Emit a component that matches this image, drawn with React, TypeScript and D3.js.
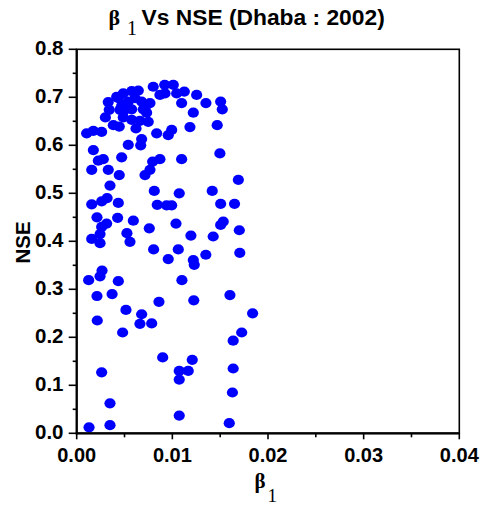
import React from 'react';
import * as d3 from 'd3';

const beta1 = [
  0.00104, 0.00174, 0.00261, 0.0033, 0.0034, 0.003, 0.00383, 0.00418, 0.00435, 0.00487,
  0.00575, 0.00644, 0.0061, 0.00679, 0.00539, 0.0047, 0.00452, 0.00522, 0.00487, 0.00575,
  0.00696, 0.00731, 0.00766, 0.00748, 0.00661, 0.00575, 0.00487, 0.00445, 0.0062, 0.00679,
  0.00669, 0.00539, 0.00836, 0.00957, 0.00993, 0.008, 0.0087, 0.0092, 0.0101, 0.01045,
  0.01125, 0.01097, 0.01254, 0.01219, 0.01351, 0.01505, 0.01522, 0.01184, 0.01469, 0.01497,
  0.01097, 0.0087, 0.00794, 0.00766, 0.00714, 0.0047, 0.00278, 0.00226, 0.00174, 0.00157,
  0.0033, 0.00445, 0.00348, 0.00811, 0.01072, 0.01417, 0.0169, 0.00157, 0.00261, 0.00318,
  0.00435, 0.00842, 0.0094, 0.00993, 0.01505, 0.0165, 0.00212, 0.00313, 0.00261, 0.00428,
  0.00592, 0.00759, 0.01038, 0.01532, 0.01505, 0.017, 0.00157, 0.00244, 0.00244, 0.00525,
  0.00557, 0.00804, 0.00957, 0.01062, 0.01194, 0.01219, 0.01229, 0.0135, 0.01427, 0.01705,
  0.00265, 0.00244, 0.00125, 0.00435, 0.011, 0.00212, 0.0037, 0.0086, 0.01224, 0.01602,
  0.00515, 0.00679, 0.00215, 0.00661, 0.00784, 0.0048, 0.00899, 0.00261, 0.01072, 0.01072,
  0.01166, 0.01208, 0.00348, 0.01072, 0.00129, 0.00348, 0.01636, 0.01636, 0.01628, 0.01595,
  0.01725, 0.01839, 0.00923, 0.00731,
];

const nse = [
  0.625, 0.63, 0.628, 0.69, 0.674, 0.658, 0.642, 0.701, 0.698, 0.708,
  0.713, 0.714, 0.698, 0.691, 0.691, 0.682, 0.674, 0.68, 0.67, 0.675,
  0.675, 0.668, 0.688, 0.649, 0.651, 0.653, 0.658, 0.639, 0.635, 0.613,
  0.6, 0.601, 0.625, 0.621, 0.632, 0.722, 0.705, 0.726, 0.726, 0.708,
  0.712, 0.688, 0.705, 0.668, 0.688, 0.691, 0.675, 0.638, 0.642, 0.583,
  0.571, 0.571, 0.566, 0.549, 0.538, 0.575, 0.571, 0.568, 0.59, 0.549,
  0.549, 0.538, 0.516, 0.505, 0.5, 0.505, 0.528, 0.477, 0.483, 0.49,
  0.48, 0.476, 0.475, 0.475, 0.478, 0.478, 0.45, 0.437, 0.43, 0.449,
  0.443, 0.427, 0.437, 0.441, 0.434, 0.423, 0.405, 0.415, 0.396, 0.417,
  0.399, 0.383, 0.363, 0.383, 0.412, 0.361, 0.351, 0.372, 0.41, 0.376,
  0.339, 0.327, 0.319, 0.317, 0.319, 0.286, 0.29, 0.274, 0.277, 0.288,
  0.257, 0.248, 0.235, 0.228, 0.229, 0.21, 0.158, 0.127, 0.13, 0.112,
  0.13, 0.153, 0.0625, 0.037, 0.0125, 0.017, 0.193, 0.135, 0.085, 0.021,
  0.21, 0.25, 0.708, 0.684,
];

const xTicks = [0, 0.01, 0.02, 0.03, 0.04];
const xTickLabels = ['0.00', '0.01', '0.02', '0.03', '0.04'];
const xMinorTicks = [0.005, 0.015, 0.025, 0.035];
const yTicks = [0, 0.1, 0.2, 0.3, 0.4, 0.5, 0.6, 0.7, 0.8];
const yTickLabels = ['0.0', '0.1', '0.2', '0.3', '0.4', '0.5', '0.6', '0.7', '0.8'];
const yMinorTicks = [0.05, 0.15, 0.25, 0.35, 0.45, 0.55, 0.65, 0.75];

export default function App() {
  const W = 481;
  const H = 506;
  const left = 76.7;
  const right = 459.3;
  const top = 49.3;
  const bottom = 433.3;
  const x = d3.scaleLinear().domain([0, 0.04]).range([left, right]);
  const y = d3.scaleLinear().domain([0, 0.8]).range([bottom, top]);
  const sans = "'Liberation Sans', Arial, sans-serif";
  const serif = "'Liberation Serif', 'Times New Roman', serif";
  const points = beta1.map((b, i) => ({ b, n: nse[i] }));

  return (
    <svg
      width={W}
      height={H}
      style={{ position: 'absolute', left: 0, top: 0, background: '#fff' }}
    >
      <rect x={0} y={0} width={W} height={H} fill="#fff" />
      {/* title */}
      <text x={108.5} y={25} fontFamily={serif} fontSize={22} fontWeight="bold" fill="#000">β</text>
      <text x={127} y={35} fontFamily={serif} fontSize={20} fill="#000">1</text>
      <text x={141.5} y={25} fontFamily={sans} fontSize={22.8} fontWeight="bold" fill="#000">
        Vs NSE (Dhaba : 2002)
      </text>

      {/* points */}
      <g>
        {points.map((p, i) => (
          <ellipse key={i} cx={x(p.b)} cy={y(p.n)} rx={5.6} ry={5.1} fill="#0000ff" />
        ))}
      </g>

      {/* frame */}
      <rect x={left} y={top} width={right - left} height={bottom - top} fill="none" stroke="#000" strokeWidth={1.6} />
      <line x1={left} x2={left} y1={top} y2={bottom + 1} stroke="#000" strokeWidth={2.2} />
      <line x1={left - 1} x2={right} y1={bottom} y2={bottom} stroke="#000" strokeWidth={2.2} />

      {/* x ticks */}
      {xTicks.map((t, i) => (
        <g key={'xt' + i}>
          <line x1={x(t)} x2={x(t)} y1={bottom} y2={bottom + 6} stroke="#000" strokeWidth={1.6} />
          <text x={x(t)} y={462} textAnchor="middle" fontFamily={sans} fontSize={20} fontWeight="bold" fill="#000">
            {xTickLabels[i]}
          </text>
        </g>
      ))}
      {xMinorTicks.map((t, i) => (
        <line key={'xm' + i} x1={x(t)} x2={x(t)} y1={bottom} y2={bottom + 4} stroke="#000" strokeWidth={1.6} />
      ))}

      {/* y ticks */}
      {yTicks.map((t, i) => (
        <g key={'yt' + i}>
          <line x1={left - 8} x2={left} y1={y(t)} y2={y(t)} stroke="#000" strokeWidth={1.6} />
          <text x={63.5} y={y(t) + 6} textAnchor="end" fontFamily={sans} fontSize={20.5} fontWeight="bold" fill="#000">
            {yTickLabels[i]}
          </text>
        </g>
      ))}
      {yMinorTicks.map((t, i) => (
        <line key={'ym' + i} x1={left - 4} x2={left} y1={y(t)} y2={y(t)} stroke="#000" strokeWidth={1.6} />
      ))}

      {/* axis titles */}
      <text
        transform={`translate(30, 242.5) rotate(-90)`}
        textAnchor="middle"
        fontFamily={sans}
        fontSize={20.5}
        fontWeight="bold"
        fill="#000"
      >
        NSE
      </text>
      <text x={254.5} y={488} fontFamily={serif} fontSize={21} fontWeight="bold" fill="#000">β</text>
      <text x={267.5} y={502} fontFamily={serif} fontSize={19} fill="#000">1</text>
    </svg>
  );
}
